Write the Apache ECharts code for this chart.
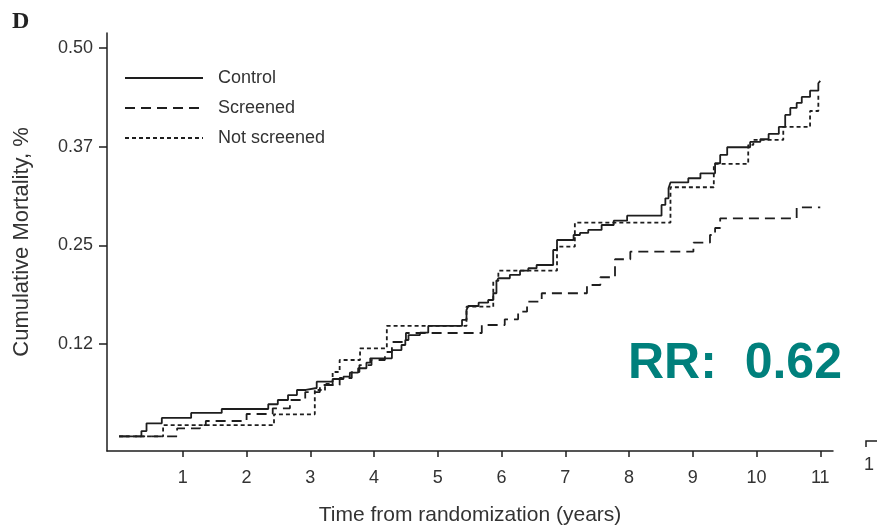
<!DOCTYPE html>
<html>
<head>
<meta charset="utf-8">
<script src="https://cdn.jsdelivr.net/npm/echarts@6/dist/echarts.min.js"></script>
<style>
html,body{margin:0;padding:0;background:#fff;}
#chart{width:877px;height:527px;}
</style>
</head>
<body>
<div id="chart"></div>
<script>
// ---- Data (years, cumulative mortality %) ----
var seriesNames = ["Control", "Screened", "Not screened"];

var controlX = [0, 0.35, 0.43, 0.67, 1.13, 1.61, 2.34, 2.49, 2.65, 2.79, 2.93, 3.10, 3.35, 3.52, 3.62, 3.75, 3.88, 3.94, 4.28, 4.43, 4.49, 4.54, 4.72, 4.85, 5.38, 5.45, 5.48, 5.64, 5.79, 5.87, 5.92, 5.95, 6.13, 6.29, 6.42, 6.55, 6.81, 6.87, 7.13, 7.23, 7.36, 7.57, 7.76, 7.97, 8.51, 8.57, 8.62, 8.65, 8.93, 9.12, 9.35, 9.43, 9.54, 9.90, 10.06, 10.19, 10.35, 10.45, 10.53, 10.63, 10.71, 10.84, 10.97, 11.00];
var controlY = [0.0079, 0.0148, 0.0246, 0.0314, 0.0377, 0.0427, 0.0487, 0.0541, 0.0604, 0.0668, 0.0693, 0.0773, 0.0807, 0.0836, 0.0887, 0.0943, 0.1014, 0.1069, 0.1174, 0.1238, 0.1301, 0.1364, 0.1394, 0.1479, 0.1555, 0.1681, 0.1732, 0.1774, 0.1808, 0.1893, 0.2040, 0.2083, 0.2125, 0.2179, 0.2210, 0.2251, 0.2441, 0.2568, 0.2631, 0.2657, 0.2695, 0.2758, 0.2813, 0.2876, 0.3012, 0.3096, 0.3223, 0.3297, 0.3350, 0.3413, 0.3540, 0.3645, 0.3743, 0.3810, 0.3844, 0.3911, 0.4000, 0.4152, 0.4241, 0.4304, 0.4380, 0.4460, 0.4553, 0.4583];

var screenedX = [0, 0.91, 1.27, 1.36, 2.00, 2.41, 2.68, 2.92, 3.15, 3.46, 3.65, 3.77, 3.96, 4.17, 4.28, 4.50, 5.69, 6.05, 6.26, 6.40, 6.63, 7.34, 7.55, 7.78, 8.02, 9.01, 9.27, 9.35, 9.43, 10.63, 11.00];
var screenedY = [0.0079, 0.0182, 0.0224, 0.0275, 0.0364, 0.0436, 0.0541, 0.0642, 0.0731, 0.0820, 0.0896, 0.0984, 0.1048, 0.1149, 0.1276, 0.1390, 0.1491, 0.1563, 0.1660, 0.1786, 0.1893, 0.1998, 0.2096, 0.2324, 0.2420, 0.2534, 0.2631, 0.2720, 0.2843, 0.2982, 0.2982];

var notScreenedX = [0, 0.69, 2.43, 3.07, 3.23, 3.35, 3.46, 3.78, 4.20, 5.45, 5.87, 5.95, 6.87, 7.15, 8.65, 9.33, 9.87, 9.95, 10.42, 10.84, 10.97];
var notScreenedY = [0.0079, 0.0224, 0.0360, 0.0668, 0.0744, 0.0896, 0.1048, 0.1196, 0.1479, 0.1723, 0.2049, 0.2179, 0.2483, 0.2787, 0.3236, 0.3531, 0.3772, 0.3835, 0.4000, 0.4202, 0.4405];

var xTickValues = [1, 2, 3, 4, 5, 6, 7, 8, 9, 10, 11];
var xTickLabels = ["1", "2", "3", "4", "5", "6", "7", "8", "9", "10", "11"];
var yTickValues = [0.125, 0.25, 0.375, 0.5];
var yTickLabels = ["0.12", "0.25", "0.37", "0.50"];

var rrText = "RR:  0.62";
var panelLetter = "D";
var xAxisTitle = "Time from randomization (years)";
var yAxisTitle = "Cumulative Mortality, %";

function zip(xs, ys) { return xs.map(function (x, i) { return [x, ys[i]]; }); }
function labelFor(values, labels) {
  return function (v) {
    for (var i = 0; i < values.length; i++) { if (Math.abs(values[i] - v) < 1e-9) return labels[i]; }
    return '';
  };
}

var FONT = '"Liberation Sans", Arial, sans-serif';
var INK = '#1e1e1e';

var chart = echarts.init(document.getElementById('chart'), null, { renderer: 'canvas' });
var option = {
  animation: false,
  backgroundColor: '#ffffff',
  textStyle: { fontFamily: FONT },
  grid: { left: 107, top: 33, right: 44, bottom: 76, containLabel: false, outerBoundsMode: 'none' },
  legend: {
    orient: 'vertical',
    left: 119,
    top: 64,
    itemWidth: 78,
    itemHeight: 14,
    itemGap: 12,
    itemStyle: { opacity: 0 },
    textStyle: { fontSize: 18, color: '#333', fontFamily: FONT, padding: [0, 0, 0, 10] },
    data: seriesNames
  },
  xAxis: {
    type: 'value',
    min: -0.19,
    max: 11.2,
    name: xAxisTitle,
    nameLocation: 'middle',
    nameGap: 54,
    nameTextStyle: { fontSize: 21, color: '#333', fontFamily: FONT },
    axisLine: { show: true, onZero: false, lineStyle: { color: INK, width: 1.5 } },
    axisTick: { show: true, length: 6, customValues: xTickValues, lineStyle: { color: INK, width: 1.5 } },
    axisLabel: { customValues: xTickValues, formatter: labelFor(xTickValues, xTickLabels), fontSize: 18, color: '#333', margin: 18 },
    splitLine: { show: false }
  },
  yAxis: {
    type: 'value',
    min: -0.0105,
    max: 0.519,
    name: yAxisTitle,
    nameLocation: 'middle',
    nameGap: 74,
    nameRotate: 90,
    nameTextStyle: { fontSize: 22, color: '#333', fontFamily: FONT },
    axisLine: { show: true, onZero: false, lineStyle: { color: INK, width: 1.5 } },
    axisTick: { show: true, length: 8, customValues: yTickValues, lineStyle: { color: INK, width: 1.5 } },
    axisLabel: { customValues: yTickValues, formatter: labelFor(yTickValues, yTickLabels), fontSize: 18, color: '#333', margin: 14 },
    splitLine: { show: false }
  },
  series: [
    {
      name: seriesNames[0], type: 'line', step: 'end', symbol: 'none',
      data: zip(controlX, controlY),
      lineStyle: { color: INK, width: 1.8, type: 'solid' },
      itemStyle: { color: INK }
    },
    {
      name: seriesNames[1], type: 'line', step: 'end', symbol: 'none',
      data: zip(screenedX, screenedY),
      lineStyle: { color: INK, width: 1.8, type: [10, 6] },
      itemStyle: { color: INK }
    },
    {
      name: seriesNames[2], type: 'line', step: 'end', symbol: 'none',
      data: zip(notScreenedX, notScreenedY),
      lineStyle: { color: INK, width: 1.8, type: [4, 3] },
      itemStyle: { color: INK }
    }
  ],
  graphic: [
    {
      type: 'text', left: 12, top: 10,
      style: { text: panelLetter, font: 'bold 24px "Liberation Serif", "Times New Roman", serif', fill: '#222' }
    },
    {
      type: 'text', left: 628, top: 339,
      style: { text: rrText, font: 'bold 50px "Liberation Sans", Arial, sans-serif', fill: '#00807c' }
    },
    {
      type: 'text', left: 864, top: 456,
      style: { text: '1', font: '18px "Liberation Sans", Arial, sans-serif', fill: '#333' }
    },
    {
      type: 'polyline', shape: { points: [[866, 447], [866, 441], [877, 441]] },
      style: { stroke: INK, lineWidth: 1.5, fill: null }
    }
  ]
};
chart.setOption(option);
</script>
</body>
</html>
